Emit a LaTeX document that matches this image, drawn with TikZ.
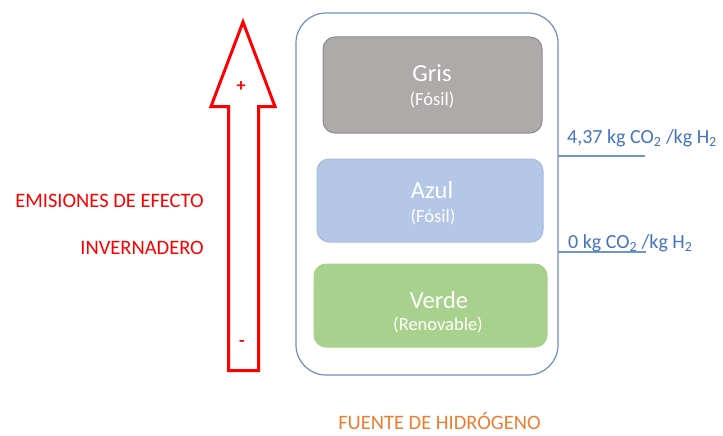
\documentclass[tikz,border=0pt]{standalone}
\usepackage{fontspec}
\setmainfont{Carlito}
\usepackage{xcolor}
\usetikzlibrary{positioning}
\definecolor{grisfill}{HTML}{ADAAA9}
\definecolor{grisdraw}{HTML}{8E8C8B}
\definecolor{azulfill}{HTML}{B4C7E7}
\definecolor{azuldraw}{HTML}{A3BAE2}
\definecolor{verdefill}{HTML}{A9D18E}
\definecolor{marco}{HTML}{6F8CC6}
\definecolor{datotext}{HTML}{4472C4}
\definecolor{datoline}{HTML}{6F94D2}
\definecolor{fuentetext}{HTML}{ED7D31}
\tikzset{
tipo/.style = { rectangle, draw = #1draw, fill = #1fill, line width = 1pt, rounded corners = 12pt, inner sep = 0pt },
titulo/.style = { white, font = \fontsize{24.5}{24}\selectfont, inner sep = 0pt },
subtitulo/.style = { white, font = \fontsize{18.5}{18}\selectfont, inner sep = 0pt },
etiqueta/.style = { red, font = \fontsize{20.5}{20}\selectfont, anchor = east, inner sep = 0pt },
valor/.style = { datotext, font = \fontsize{20}{20}\selectfont, anchor = west, inner sep = 0pt },
signo/.style = { red, font = \bfseries\fontsize{18}{18}\selectfont, inner sep = 0pt },
}
\colorlet{verdedraw}{verdefill}
\begin{document}
\begin{tikzpicture}[x = 10pt, y = -10pt]
    \useasboundingbox (0, 0) rectangle (72.3, 43.6);
    % marco
    \node[draw = marco, line width = 1.2pt, rounded corners = 30pt, minimum width = 262pt, minimum height = 362pt] (fuentes) at (42.7, 19.4) {};
    % tipos de hidrogeno
    \node[tipo = gris, minimum width = 219pt, minimum height = 96pt] (gris) at (43.25, 8.5) {};
    \node[tipo = azul, minimum width = 226pt, minimum height = 83pt] (azul) at (43.0, 20.05) {};
    \node[tipo = verde, minimum width = 233pt, minimum height = 83pt] (verde) at (43.05, 30.55) {};
    \node[titulo] (gris titulo) at (43.2, 7.3) {Gris};
    \node[subtitulo] (gris sub) at (43.2, 10.0) {(Fósil)};
    \node[titulo] (azul titulo) at (43.2, 19.0) {Azul};
    \node[subtitulo] (azul sub) at (43.3, 21.7) {(Fósil)};
    \node[titulo] (verde titulo) at (43.9, 30.0) {Verde};
    \node[subtitulo] (verde sub) at (43.8, 32.5) {(Renovable)};
    % flecha
    \path[draw = red, line width = 3pt, line join = miter] (24.3, 2.2) -- (27.5, 10.65) -- (25.85, 10.65) -- (25.85, 37.05) -- (22.85, 37.05) -- (22.85, 10.65) -- (21.1, 10.65) -- cycle;
    \node[signo] (mas) at (24.1, 8.7) {+};
    \node[signo] (menos) at (24.2, 34.3) {-};
    \node[etiqueta] (emisiones) at (20.4, 20.1) {EMISIONES DE EFECTO};
    \node[etiqueta] (invernadero) at (20.4, 24.8) {INVERNADERO};
    % valores
    \coordinate (max ini) at (55.8, 15.6);
    \coordinate (max fin) at (64.5, 15.6);
    \coordinate (min ini) at (55.8, 25.2);
    \coordinate (min fin) at (64.6, 25.2);
    \draw[datoline, line width = 2pt] (max ini) -- (max fin);
    \draw[datoline, line width = 2pt] (min ini) -- (min fin);
    \node[valor] (max) at (56.7, 13.8) {4,37 kg CO\textsubscript{2} /kg H\textsubscript{2}};
    \node[valor] (min) at (56.8, 24.3) {0 kg CO\textsubscript{2} /kg H\textsubscript{2}};
    \node[fuentetext, font = \fontsize{20.5}{20}\selectfont, inner sep = 0pt, anchor = base] (titulo fuente) at (43.95, 42.9) {FUENTE DE HIDRÓGENO};
\end{tikzpicture}
\end{document}
